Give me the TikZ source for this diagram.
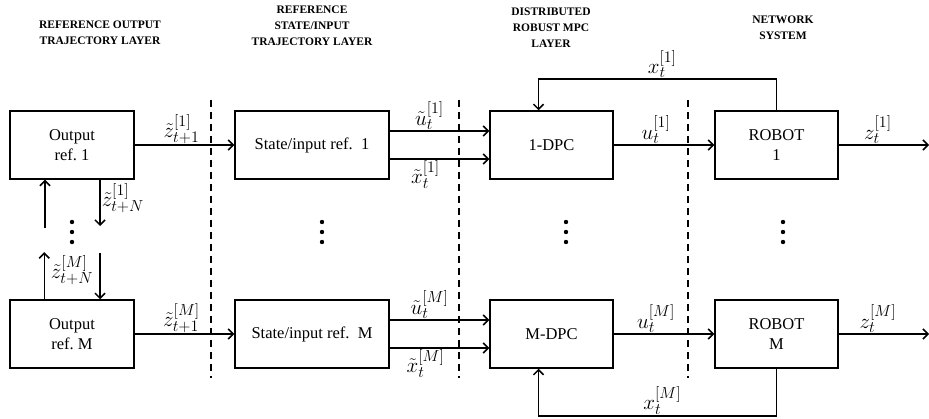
\documentclass[tikz,border=0pt]{standalone}
\usepackage{fix-cm}
\usepackage{fontspec}
\setmainfont{Liberation Serif}
\DeclareMathSizes{21}{21}{16}{12}
\usetikzlibrary{arrows.meta,positioning}

\tikzset{
  blk/.style={draw,line width=1.5pt,minimum width=#1,minimum height=68pt,
    inner sep=0pt,align=center,font=\fontsize{16.5}{20}\selectfont},
  lbl/.style={font=\fontsize{21}{22}\selectfont,inner sep=1pt},
  hdr/.style={font=\fontsize{11.5}{16}\selectfont\bfseries,align=center},
  layersep/.style={line width=1.5pt,dash pattern=on 7pt off 5pt}
}

\begin{document}
\begin{tikzpicture}[x=1pt,y=1pt,line width=1.5pt,
    >={Straight Barb[length=5pt,width=10pt]}]
  \useasboundingbox (0,0) rectangle (929,418);

  % layer titles
  \node[hdr] (hout) at (100,385) {REFERENCE OUTPUT\\TRAJECTORY LAYER};
  \node[hdr] (hst)  at (312,392) {REFERENCE\\STATE/INPUT\\TRAJECTORY LAYER};
  \node[hdr] (hmpc) at (551,390) {DISTRIBUTED\\ROBUST MPC\\LAYER};
  \node[hdr] (hnet) at (783,390) {NETWORK\\SYSTEM};

  % layer boundaries
  \foreach \x in {211,459,688}
    \draw[layersep] (\x,318) -- (\x,40);

  % one row per agent
  \foreach \i/\y in {1/273,M/84} {
    \node[blk=124pt] (out\i) at (72,\y) {Output\\ref.~\i};
    \node[blk=154pt] (st\i) at (312,\y) {State/input ref.~~\i};
    \node[blk=123pt] (dpc\i) at (551.5,\y) {\i-DPC};
    \node[blk=123pt] (rob\i) at (776.5,\y) {ROBOT\\\i};
    \coordinate (end\i) at (929,\y);
    \draw[->] (out\i) -- node[lbl,above,xshift=-3pt] {$\tilde{z}^{[\i]}_{t+1}$} (st\i);
    \draw[->] ([yshift=14pt]st\i.east) -- node[lbl,above,xshift=-10pt] {$\tilde{u}^{[\i]}_{t}$} ([yshift=14pt]dpc\i.west);
    \draw[->] ([yshift=-14pt]st\i.east) -- node[lbl,below,xshift=-14pt] {$\tilde{x}^{[\i]}_{t}$} ([yshift=-14pt]dpc\i.west);
    \draw[->] (dpc\i) -- node[lbl,above,xshift=-8pt] {$u^{[\i]}_{t}$} (rob\i);
    \draw[->] (rob\i) -- node[lbl,above,xshift=-6pt] {$z^{[\i]}_{t}$} (end\i);
  }

  % state feedback
  \draw[->] (rob1.north) -- ++(0,31) -| node[lbl,above,pos=0.24] {$x^{[1]}_{t}$} ([xshift=-13pt]dpc1.north);
  \draw[->] (robM.south) -- ++(0,-47) -| node[lbl,above,pos=0.24] {$x^{[M]}_{t}$} ([xshift=-13pt]dpcM.south);

  % exchange between output references
  \coordinate (lup) at (45,190);
  \coordinate (rdn) at (100,192);
  \draw[->] ([xshift=35pt]outM.north west) -- ++(0,47);
  \draw[->] (lup) -- (lup |- out1.south);
  \draw[->] (out1.south -| rdn) -- node[lbl,right,pos=0.4] {$\tilde{z}^{[1]}_{t+N}$} (rdn);
  \draw[->] (100,165) -- (outM.north -| rdn);
  \node[lbl] (zM) at (72,148) {$\tilde{z}^{[M]}_{t+N}$};

  % more agents
  \foreach \x in {72,322,566,783}
    \foreach \d in {176,186,196}
      \fill (\x,\d) circle (2.2pt);
\end{tikzpicture}
\end{document}
